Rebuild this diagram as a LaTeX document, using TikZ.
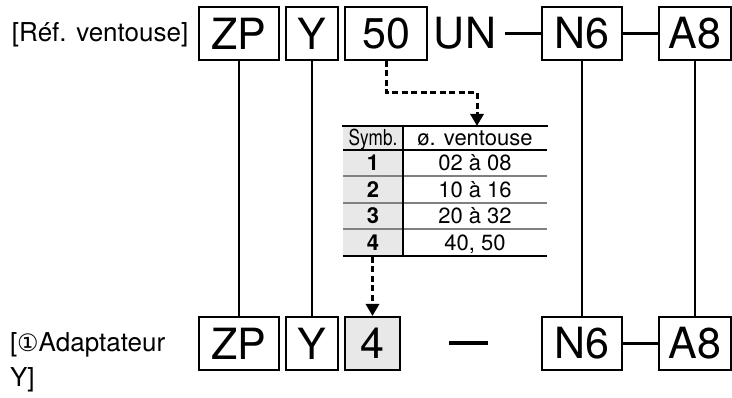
\documentclass[tikz,border=0pt]{standalone}
\usepackage{fontspec}
\setmainfont{TeX Gyre Heros}
\newfontfamily\circfont{DejaVu Sans}
\usepackage{graphicx}
\usetikzlibrary{arrows.meta}

\begin{document}
\begin{tikzpicture}[x=1pt,y=-1pt,line width=2pt,>={Triangle[width=13pt,length=12pt]},
  codebox/.style={draw,line width=2pt,inner sep=0pt,minimum height=53pt,font=\fontsize{43}{43}\selectfont},
  linkbar/.style={line width=3.5pt},
  dashlink/.style={->,line width=3pt,dash pattern=on 6pt off 3.5pt},
  tcell/.style={anchor=base,inner sep=0pt,font=\fontsize{22}{22}\selectfont},
  reflabel/.style={anchor=base west,inner sep=0pt,font=\fontsize{26}{26}\selectfont}]
  \useasboundingbox (0,0) rectangle (732,398);
  % ligne du haut
  \node[reflabel] (refv) at (11,42) {[Réf. ventouse]};
  \node[codebox,minimum width=80pt] (zpa) at (239,33.5) {ZP};
  \node[codebox,minimum width=52pt] (ya) at (312,33.5) {Y};
  \node[codebox,minimum width=82pt] (dia) at (386,33.5) {50};
  \node[inner xsep=8pt,inner ysep=0pt,font=\fontsize{43}{43}\selectfont] (un) at (465,33.5) {UN};
  \node[codebox,minimum width=80pt] (n6a) at (582,33.5) {N6};
  \node[codebox,minimum width=72pt] (a8a) at (695,33.5) {A8};
  \draw[linkbar] (un.east) -- (n6a.west);
  \draw[linkbar] (n6a.east) -- (a8a.west);
  % ligne du bas
  \node[reflabel] (adapt) at (9,352) {[{\circfont\fontsize{24}{24}\selectfont ①}Adaptateur};
  \node[reflabel] (adaptb) at (9,387) {Y]};
  \node[codebox,minimum width=80pt] (zpb) at (239,343.5) {ZP};
  \node[codebox,minimum width=52pt] (yb) at (312,343.5) {Y};
  \node[codebox,minimum width=55pt,fill=gray!18] (symb) at (372.5,343.5) {4};
  \coordinate (gapl) at (449,343);
  \coordinate (gapr) at (488,343);
  \draw[linkbar] (gapl) -- (gapr);
  \node[codebox,minimum width=80pt] (n6b) at (582,343.5) {N6};
  \node[codebox,minimum width=72pt] (a8b) at (695,343.5) {A8};
  \draw[linkbar] (n6b.east) -- (a8b.west);
  % liaisons verticales
  \draw (zpa.south) -- (zpb.north);
  \draw (ya.south) -- (yb.north);
  \draw (n6a.south) -- (n6b.north);
  \draw (a8a.south) -- (a8b.north);
  % tableau
  \node[inner sep=0pt,minimum width=204pt,minimum height=129pt] (tbl) at (445,191.5) {};
  \fill[gray!18] (343,127) rectangle (403,256);
  \foreach \y in {176.5,203,229.5} \draw[black!50,line width=2pt] (343,\y) -- (547,\y);
  \draw[line width=1.2pt] (343,150) -- (547,150);
  \draw[line width=1.2pt] (343,256) -- (547,256);
  \draw[line width=1.2pt] (403,127) -- (403,256);
  \draw[line width=2.5pt] (tbl.north west) -- (tbl.north east);
  \node[tcell] (hsym) at (373,146) {\scalebox{0.78}[1]{Symb.}};
  \node[tcell] (hdia) at (475,146) {ø. ventouse};
  \foreach \k/\y/\v in {1/171/02 à 08,2/197.5/10 à 16,3/224/20 à 32,4/250.5/{40, 50}} {
    \node[tcell,font=\fontsize{22}{22}\selectfont\bfseries] (s\k) at (373,\y) {\k};
    \node[tcell] (d\k) at (475,\y) {\v};
  }
  % fleches pointillees
  \coordinate (bend) at (477,93);
  \draw[dashlink] (dia.south) |- (bend) -- (bend |- tbl.north);
  \draw[dashlink] (tbl.south -| symb.north) -- (symb.north);
\end{tikzpicture}
\end{document}
